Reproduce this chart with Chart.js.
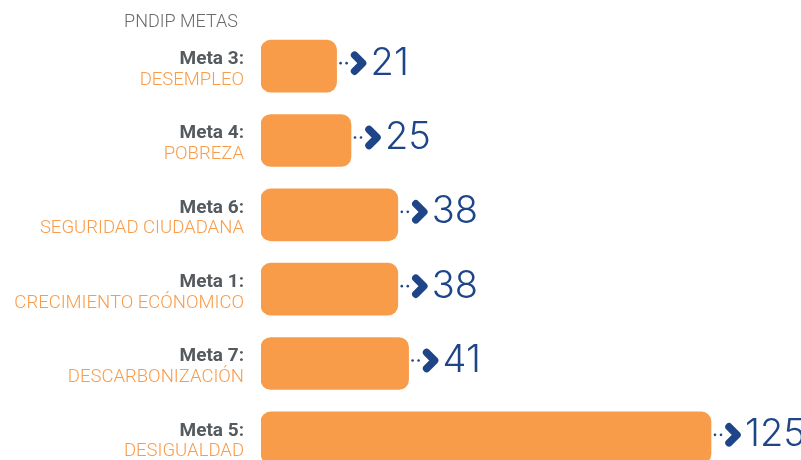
<!DOCTYPE html>
<html>
<head>
<meta charset="utf-8">
<script src="https://cdn.jsdelivr.net/npm/chart.js@4"></script>
<style>
  html, body { margin: 0; padding: 0; background: #fff; overflow: hidden; }
  #wrap { position: relative; width: 801px; height: 480px; }
</style>
</head>
<body>
<div id="wrap"><canvas id="metas"></canvas></div>
<script>
// Datos
const metas = ["Meta 3:", "Meta 4:", "Meta 6:", "Meta 1:", "Meta 7:", "Meta 5:"];
const temas = ["DESEMPLEO", "POBREZA", "SEGURIDAD CIUDADANA", "CRECIMIENTO ECÓNOMICO", "DESCARBONIZACIÓN", "DESIGUALDAD"];
const valores = [21, 25, 38, 38, 41, 125];
const titulo = "PNDIP METAS";

const naranja = "#f99c4a";
const azul = "#1f4589";

// etiquetas de la izquierda, titulo y flechas con valores
const decoracion = {
  id: "decoracion",
  afterDatasetsDraw(chart) {
    const ctx = chart.ctx;
    const barras = chart.getDatasetMeta(0).data;
    ctx.save();

    ctx.fillStyle = "#6b6b6b";
    ctx.font = "300 18px Roboto";
    ctx.textAlign = "right";
    ctx.textBaseline = "alphabetic";
    ctx.fillText(titulo, 238, 27);

    barras.forEach((bar, i) => {
      const y = bar.y;
      ctx.textAlign = "right";
      ctx.textBaseline = "middle";
      ctx.fillStyle = "#555a5f";
      ctx.font = "bold 19px Roboto";
      ctx.fillText(metas[i], 244, y - 7);
      ctx.fillStyle = naranja;
      ctx.font = "300 18.5px Roboto";
      ctx.fillText(temas[i], 244, y + 14);

      // puntos
      const x0 = bar.x;
      const yf = y - 3;
      ctx.fillStyle = azul;
      [4, 10].forEach((dx) => {
        ctx.beginPath();
        ctx.arc(x0 + dx, yf, 1.3, 0, Math.PI * 2);
        ctx.fill();
      });
      // flecha
      ctx.strokeStyle = azul;
      ctx.lineWidth = 7.5;
      ctx.lineCap = "round";
      ctx.lineJoin = "round";
      ctx.beginPath();
      ctx.moveTo(x0 + 18, yf - 8);
      ctx.lineTo(x0 + 26, yf);
      ctx.lineTo(x0 + 18, yf + 8);
      ctx.stroke();

      // valor
      ctx.fillStyle = azul;
      ctx.font = "300 38px Inter";
      ctx.textAlign = "left";
      ctx.textBaseline = "middle";
      ctx.fillText(String(valores[i]), x0 + 34, y - 3);
    });
    ctx.restore();
  }
};

new Chart(document.getElementById("metas"), {
  type: "bar",
  data: {
    labels: metas,
    datasets: [
      {
        data: valores,
        backgroundColor: naranja,
        borderRadius: 10,
        borderSkipped: false,
        barThickness: 52
      }
    ]
  },
  options: {
    indexAxis: "y",
    responsive: true,
    maintainAspectRatio: false,
    animation: false,
    layout: {
      padding: { left: 261, right: 0, top: 29, bottom: 5 }
    },
    scales: {
      x: {
        min: 0,
        max: 150,
        display: false,
        grid: { display: false }
      },
      y: {
        display: false,
        grid: { display: false }
      }
    },
    plugins: {
      legend: { display: false },
      tooltip: { enabled: false }
    }
  },
  plugins: [decoracion]
});
</script>
</body>
</html>
